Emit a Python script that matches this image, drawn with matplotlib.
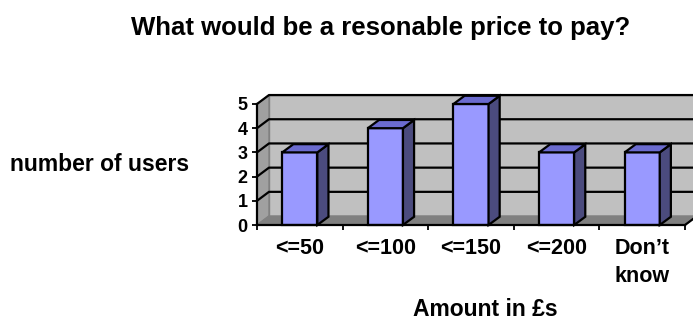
import matplotlib.pyplot as plt
from matplotlib.patches import Polygon

plt.rcParams['font.family'] = ['Liberation Sans', 'DejaVu Sans']
plt.rcParams['font.weight'] = 'bold'

categories = ["<=50", "<=100", "<=150", "<=200", "Don\u2019t\nknow"]
users = [3, 4, 5, 3, 3]
y_ticks = [0, 1, 2, 3, 4, 5]

# depth offsets (data units) for the fake 3d look
DX, DY = 0.14, 0.37
BDX, BDY = 0.13, 0.34
BW = 0.41

fig = plt.figure(figsize=(6.93, 3.22), dpi=100)
ax = fig.add_axes([257/693, 97/322, 428/693, 121/322])
ax.set_xlim(0, len(categories))
ax.set_ylim(0, 5)

n = len(categories)
ymax = max(y_ticks)

def poly(pts, fc, ec, lw=1.0, z=1):
    ax.add_patch(Polygon(pts, closed=True, facecolor=fc, edgecolor=ec,
                         linewidth=lw, clip_on=False, zorder=z))

# walls + floor
poly([(DX, DY), (n+DX, DY), (n+DX, ymax+DY), (DX, ymax+DY)], "#c0c0c0", "#808080", 1.0, 1)
poly([(0, 0), (DX, DY), (DX, ymax+DY), (0, ymax)], "#a0a0a0", "#808080", 1.0, 1)
poly([(0, 0), (n, 0), (n+DX, DY), (DX, DY)], "#808080", "#808080", 1.0, 1)

# gridlines on back and side wall
for t in y_ticks[1:]:
    ax.plot([0, DX, n+DX], [t, t+DY, t+DY], color="black", lw=1.6,
            clip_on=False, zorder=2)

# bars
for i, v in enumerate(users):
    x0 = i + 0.5 - BW/2
    x1 = x0 + BW
    poly([(x0, 0), (x1, 0), (x1, v), (x0, v)], "#9999ff", "black", 1.6, 3)
    poly([(x1, 0), (x1+BDX, BDY), (x1+BDX, v+BDY), (x1, v)], "#4b4b7e", "black", 1.6, 3)
    poly([(x0, v), (x1, v), (x1+BDX, v+BDY), (x0+BDX, v+BDY)], "#6b6bcf", "black", 1.6, 3)

# floor right edge
ax.plot([n, n+DX], [0, DY], color="black", lw=1.6, clip_on=False, zorder=4)

ax.set_facecolor("none")
for s in ["top", "right"]:
    ax.spines[s].set_visible(False)
for s in ["left", "bottom"]:
    ax.spines[s].set_linewidth(1.6)
    ax.spines[s].set_zorder(5)

ax.set_yticks(y_ticks)
ax.set_yticklabels([str(t) for t in y_ticks], fontsize=13, fontweight="bold")
ax.tick_params(axis="y", length=3.6, width=1.3, pad=3)

ax.set_xticks(range(n+1))
ax.set_xticklabels([])
ax.set_xticks([i + 0.5 for i in range(n)], minor=True)
ax.set_xticklabels(categories, minor=True, fontsize=15.5, fontweight="bold",
                   linespacing=1.45, va="top")
ax.tick_params(axis="x", which="major", length=3.6, width=1.3)
ax.tick_params(axis="x", which="minor", length=0, pad=9)

fig.text(381/693, 1 - 35/322, "What would be a resonable price to pay?",
         ha="center", va="baseline", fontsize=18.5, fontweight="bold")
fig.text(100/693, 1 - 171/322, "number of users",
         ha="center", va="baseline", fontsize=16.5, fontweight="bold")
fig.text(485/693, 1 - 316/322, "Amount in \u00a3s",
         ha="center", va="baseline", fontsize=16.5, fontweight="bold")

fig.savefig("out.png", dpi=100)
